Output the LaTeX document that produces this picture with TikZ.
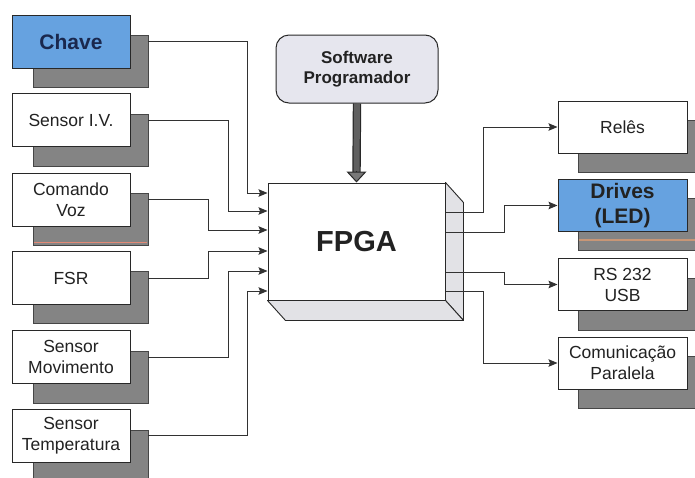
\documentclass[tikz,border=0pt]{standalone}
\usepackage{fontspec}
\setmainfont{Liberation Sans}
\usetikzlibrary{arrows.meta,calc}

\definecolor{boxblue}{RGB}{102,162,224}
\definecolor{navytext}{RGB}{26,40,78}
\definecolor{shade}{RGB}{132,132,132}
\definecolor{shadeedge}{RGB}{70,70,70}
\definecolor{edge}{RGB}{40,40,40}
\definecolor{txt}{RGB}{34,34,34}
\definecolor{swfill}{RGB}{230,230,238}
\definecolor{facefill}{RGB}{226,226,230}
\definecolor{wire}{RGB}{50,50,50}
\definecolor{thick}{RGB}{96,96,96}
\definecolor{scanred}{RGB}{228,138,118}
\definecolor{scantan}{RGB}{200,150,118}

\begin{document}
\begin{tikzpicture}[x=1pt,y=-1pt,
  lbox/.style={draw=edge, line width=1pt, fill=white, text=txt,
    minimum width=118pt, minimum height=53pt, inner sep=0pt, align=center,
    font=\fontsize{17.5}{21}\selectfont},
  rbox/.style={lbox, minimum width=129pt, minimum height=52pt},
  bluebox/.style={fill=boxblue, font=\bfseries\fontsize{21}{25}\selectfont},
  lshadow/.style={draw=shadeedge, line width=0.8pt, fill=shade,
    minimum width=115pt, minimum height=52pt, inner sep=0pt},
  rshadow/.style={lshadow, minimum width=127pt},
  face/.style={draw=edge, line width=0.9pt, fill=facefill, line join=round},
  conn/.style={draw=wire, line width=0.9pt,
    -{Stealth[length=9pt,width=7.5pt,inset=1.5pt]}}
]
\useasboundingbox (0,0) rectangle (695,477);
\clip (0,0) rectangle (695,477);

% left shadows
\node[lshadow] (s1) at (90.5,61)  {};
\node[lshadow] (s2) at (90.5,140) {};
\node[lshadow] (s3) at (90.5,219) {};
\node[lshadow] (s4) at (90.5,297.5) {};
\node[lshadow] (s5) at (90.5,377) {};
\node[lshadow] (s6) at (90.5,456) {};
\draw[scanred, line width=1.6pt] ($(s3.south west)+(1,-3)$) -- ($(s3.south east)+(-1,-3)$);

% left input boxes
\node[lbox,bluebox,text=navytext] (chave) at (71,41.5) {Chave};
\node[lbox] (iv)   at (71,120)   {Sensor I.V.};
\node[lbox] (voz)  at (71,199.5) {Comando\\Voz};
\node[lbox] (fsr)  at (71,278)   {FSR};
\node[lbox] (mov)  at (71,357)   {Sensor\\Movimento};
\node[lbox] (temp) at (71,435.5) {Sensor\\Temperatura};

% right shadows
\node[rshadow] (r1) at (641.5,146)   {};
\node[rshadow] (r2) at (641.5,224.5) {};
\node[rshadow] (r3) at (641.5,304)   {};
\node[rshadow] (r4) at (641.5,382.5) {};
\draw[scantan, line width=1.4pt] ($(r2.south west)+(1,-11)$) -- ($(r2.south east)+(-1,-11)$);

% right output boxes
\node[rbox] (rel) at (622.5,127) {Relês};
\node[rbox,bluebox,text=txt] (drv) at (622.5,205.5) {Drives\\(LED)};
\node[rbox] (rs)  at (622.5,284.5) {RS 232\\USB};
\node[rbox] (com) at (622.5,363)   {Comunicação\\Paralela};

% programming software
\node[draw=edge, line width=1pt, fill=swfill, rounded corners=13pt, text=txt,
  minimum width=162pt, minimum height=68pt, align=center,
  font=\bfseries\fontsize{17}{20}\selectfont] (sw) at (357,69) {Software\\Programador};

% FPGA block with extruded faces
\node[draw=edge, line width=1pt, fill=white, text=txt,
  minimum width=177pt, minimum height=117pt, inner sep=0pt,
  font=\bfseries\fontsize{29}{32}\selectfont] (fpga) at (356.5,241.5) {FPGA};
\draw[face] (fpga.north east) -- ++(18,20) -- ($(fpga.south east)+(18,20)$)
  -- (fpga.south east) -- cycle;
\draw[face] (fpga.south west) -- ++(18,20) -- ($(fpga.south east)+(18,20)$)
  -- (fpga.south east) -- cycle;

% input and output points on the FPGA
\coordinate (in1) at (fpga.west |- 0,193);
\coordinate (in2) at (fpga.west |- 0,211);
\coordinate (in3) at (fpga.west |- 0,230);
\coordinate (in4) at (fpga.west |- 0,251);
\coordinate (in5) at (fpga.west |- 0,271);
\coordinate (in6) at (fpga.west |- 0,291);
\coordinate (out1) at (fpga.east |- 0,212);
\coordinate (out2) at (fpga.east |- 0,232);
\coordinate (out3) at (fpga.east |- 0,272);
\coordinate (out4) at (fpga.east |- 0,291);

% thick programming arrow
\draw[draw=edge, line width=1.2pt, double=thick, double distance=6pt]
  (sw.south) -- ($(fpga.north)+(0,-10)$);
\draw[draw=edge, line width=1pt, line join=miter,
  -{Triangle[length=11pt,width=20pt,fill=thick!85!white]}]
  ($(fpga.north)+(0,-12)$) -- (fpga.north);

% input wiring
\draw[conn] (s1.east |- chave) -| ($(in1)+(-20,0)$) -- (in1);
\draw[conn] (s2.east |- iv)    -| ($(in2)+(-39,0)$) -- (in2);
\draw[conn] (s3.east |- voz)   -| ($(in3)+(-59,0)$) -- (in3);
\draw[conn] (s4.east |- fsr)   -| ($(in4)+(-59,0)$) -- (in4);
\draw[conn] (s5.east |- mov)   -| ($(in5)+(-39,0)$) -- (in5);
\draw[conn] (s6.east |- temp)  -| ($(in6)+(-20,0)$) -- (in6);

% output wiring
\draw[conn] (out1) -- ++(38,0) |- (rel.west);
\draw[conn] (out2) -- ++(59,0) |- (drv.west);
\draw[conn] (out3) -- ++(59,0) |- (rs.west);
\draw[conn] (out4) -- ++(38,0) |- (com.west);
\end{tikzpicture}
\end{document}
